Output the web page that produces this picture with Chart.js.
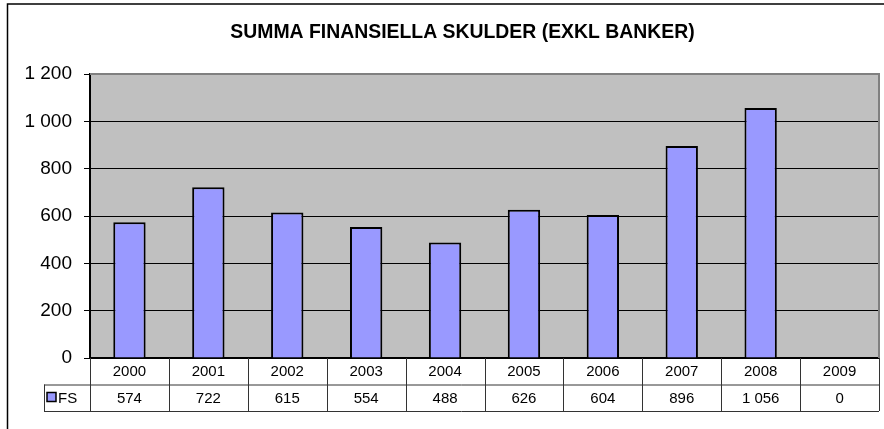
<!DOCTYPE html>
<html>
<head>
<meta charset="utf-8">
<script src="https://cdn.jsdelivr.net/npm/chart.js@4/dist/chart.umd.min.js"></script>
<style>
  html, body { margin: 0; padding: 0; background: #fff; }
  #wrap { width: 884px; height: 429px; }
</style>
</head>
<body>
<div id="wrap"><canvas id="chart" width="884" height="429"></canvas></div>
<script>
const years = ["2000", "2001", "2002", "2003", "2004", "2005", "2006", "2007", "2008", "2009"];
const fsValues = [574, 722, 615, 554, 488, 626, 604, 896, 1056, 0];
const seriesName = "FS";
const chartTitle = "SUMMA FINANSIELLA SKULDER (EXKL BANKER)";

const barFill = "#9999ff";
const plotGray = "#c0c0c0";
const fontFamily = "'Liberation Sans', Arial, sans-serif";

// 1200 -> "1 200"
const fmt = (v) => String(v).replace(/\B(?=(\d{3})+(?!\d))/g, " ");

const plotBackground = {
  id: "plotBackground",
  beforeDraw(chart) {
    const { ctx, chartArea: a } = chart;
    ctx.save();
    ctx.fillStyle = plotGray;
    ctx.fillRect(a.left, a.top, a.right - a.left, a.bottom - a.top);
    ctx.restore();
  },
  afterDraw(chart) {
    const { ctx, chartArea: a } = chart;
    const x = chart.scales.x;
    const rowH = 26.5;
    const tableTop = a.bottom;
    const legendLeft = 44;
    const step = (a.right - a.left) / years.length;

    ctx.save();
    // title, centred like the Excel chart title
    ctx.fillStyle = "#000";
    ctx.font = "bold 19.4px " + fontFamily;
    ctx.textAlign = "center";
    ctx.textBaseline = "middle";
    ctx.fillText(chartTitle, 462.5, 33);

    // plot frame, top and right in gray
    ctx.strokeStyle = "#808080";
    ctx.lineWidth = 2;
    ctx.beginPath();
    ctx.moveTo(a.left, a.top);
    ctx.lineTo(a.right, a.top);
    ctx.lineTo(a.right, a.bottom);
    ctx.stroke();

    // data table
    ctx.strokeStyle = "#333";
    ctx.lineWidth = 1;
    ctx.beginPath();
    ctx.moveTo(legendLeft + 0.5, tableTop + rowH);
    ctx.lineTo(legendLeft + 0.5, tableTop + rowH * 2);
    ctx.moveTo(legendLeft, tableTop + rowH + 0.5);
    ctx.lineTo(a.right, tableTop + rowH + 0.5);
    ctx.moveTo(legendLeft, tableTop + rowH * 2 + 0.5);
    ctx.lineTo(a.right, tableTop + rowH * 2 + 0.5);
    for (let i = 0; i <= years.length; i++) {
      const lx = Math.round(a.left + step * i) + 0.5;
      ctx.moveTo(lx, tableTop);
      ctx.lineTo(lx, tableTop + rowH * 2);
    }
    ctx.stroke();

    ctx.fillStyle = "#000";
    ctx.font = "15px " + fontFamily;
    ctx.textAlign = "center";
    years.forEach((y, i) => {
      const cx = x.getPixelForValue(i);
      ctx.fillText(y, cx, tableTop + rowH / 2 + 1);
      ctx.fillText(fmt(fsValues[i]), cx, tableTop + rowH * 1.5 + 1);
    });

    // legend key
    ctx.fillStyle = barFill;
    ctx.fillRect(47, tableTop + rowH + 8, 9, 9);
    ctx.strokeStyle = "#000";
    ctx.lineWidth = 1.5;
    ctx.strokeRect(47, tableTop + rowH + 8, 9, 9);
    ctx.fillStyle = "#000";
    ctx.textAlign = "left";
    ctx.fillText(seriesName, 58, tableTop + rowH * 1.5 + 1);

    // outer frame
    ctx.lineWidth = 1.5;
    ctx.beginPath();
    ctx.moveTo(7.5, 429);
    ctx.lineTo(7.5, 4);
    ctx.lineTo(884, 4);
    ctx.stroke();
    ctx.restore();
  }
};

new Chart(document.getElementById("chart"), {
  type: "bar",
  data: {
    labels: years,
    datasets: [{
      label: seriesName,
      data: fsValues,
      backgroundColor: barFill,
      borderColor: "#000",
      borderWidth: 2,
      barPercentage: 0.41,
      categoryPercentage: 1
    }]
  },
  options: {
    responsive: false,
    animation: false,
    layout: { padding: { left: 0, right: 5, top: 74, bottom: 71 } },
    plugins: {
      legend: { display: false },
      tooltip: { enabled: false },
      title: { display: false }
    },
    scales: {
      x: {
        afterFit: (s) => { s.height = 0; },
        ticks: { display: false },
        grid: { display: false },
        border: { color: "#000", width: 2 }
      },
      y: {
        min: 0,
        max: 1200,
        afterFit: (s) => { s.width = 90; },
        ticks: {
          stepSize: 200,
          color: "#000",
          padding: 12,
          font: { family: fontFamily, size: 19 },
          callback: (v) => fmt(v)
        },
        grid: {
          color: (c) => (c.tick && c.tick.value === 1200 ? "#808080" : "#000"),
          tickColor: "#000",
          tickLength: 6,
          lineWidth: 1
        },
        border: { color: "#000", width: 2 }
      }
    }
  },
  plugins: [plotBackground]
});
</script>
</body>
</html>
